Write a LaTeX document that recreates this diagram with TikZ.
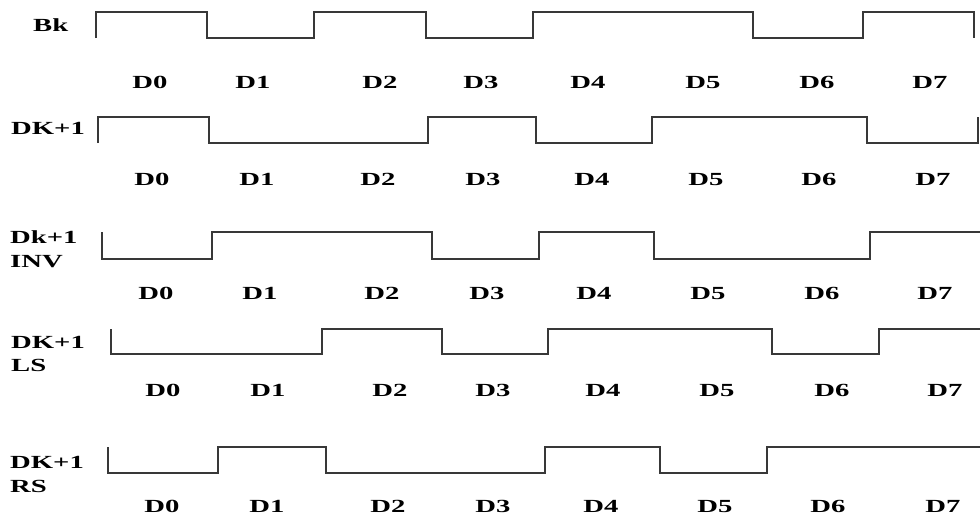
\documentclass[tikz,border=0pt]{standalone}
\usepackage{fontspec}
\setmainfont{Liberation Serif}[FakeStretch=1.55]
\begin{document}
\begin{tikzpicture}[x=1pt,y=-1pt,
  wave/.style={line width=1.4pt,draw=black!78,line join=miter},
  lab/.style={font=\fontsize{18.5}{20}\selectfont\bfseries,inner sep=0pt,anchor=base west},
  dlab/.style={font=\fontsize{18.5}{20}\selectfont\bfseries,inner sep=0pt,anchor=base}]
\useasboundingbox (0,0) rectangle (980,515);
% row labels
\node[lab] (bk) at (33,31) {Bk};
\node[lab] (r2) at (11,134) {DK+1};
\node[lab] (r3a) at (10,243.5) {Dk+1};
\node[lab] (r3b) at (10,267) {INV};
\node[lab] (r4a) at (11,348) {DK+1};
\node[lab] (r4b) at (11,371) {LS};
\node[lab] (r5a) at (10,468.5) {DK+1};
\node[lab] (r5b) at (10,492) {RS};
% waveforms
\draw[wave] (96,38)--(96,12)--(207,12)--(207,38)--(314,38)--(314,12)--(426,12)--(426,38)--(533,38)--(533,12)--(753,12)--(753,38)--(863,38)--(863,12)--(974,12)--(974,38);
\draw[wave] (98,143)--(98,117)--(209,117)--(209,143)--(428,143)--(428,117)--(536,117)--(536,143)--(652,143)--(652,117)--(867,117)--(867,143)--(978,143)--(978,117);
\draw[wave] (102,232)--(102,259)--(212,259)--(212,232)--(432,232)--(432,259)--(539,259)--(539,232)--(654,232)--(654,259)--(870,259)--(870,232)--(980,232);
\draw[wave] (111,329)--(111,354)--(322,354)--(322,329)--(442,329)--(442,354)--(548,354)--(548,329)--(772,329)--(772,354)--(879,354)--(879,329)--(980,329);
\draw[wave] (108,447)--(108,473)--(218,473)--(218,447)--(326,447)--(326,473)--(545,473)--(545,447)--(660,447)--(660,473)--(767,473)--(767,447)--(980,447);
% bit labels
\foreach \i/\x in {0/150,1/253,2/380,3/481,4/588,5/703,6/817,7/930}
  \node[dlab] (a\i) at (\x,88.5) {D\i};
\foreach \i/\x in {0/152,1/257,2/378,3/483,4/592,5/706,6/819,7/933}
  \node[dlab] (b\i) at (\x,185) {D\i};
\foreach \i/\x in {0/156,1/260,2/382,3/487,4/594,5/708,6/822,7/935}
  \node[dlab] (c\i) at (\x,299) {D\i};
\foreach \i/\x in {0/163,1/268,2/390,3/493,4/603,5/717,6/832,7/945}
  \node[dlab] (d\i) at (\x,396) {D\i};
\foreach \i/\x in {0/162,1/267,2/388,3/493,4/601,5/715,6/828,7/943}
  \node[dlab] (e\i) at (\x,512.5) {D\i};
\end{tikzpicture}
\end{document}
